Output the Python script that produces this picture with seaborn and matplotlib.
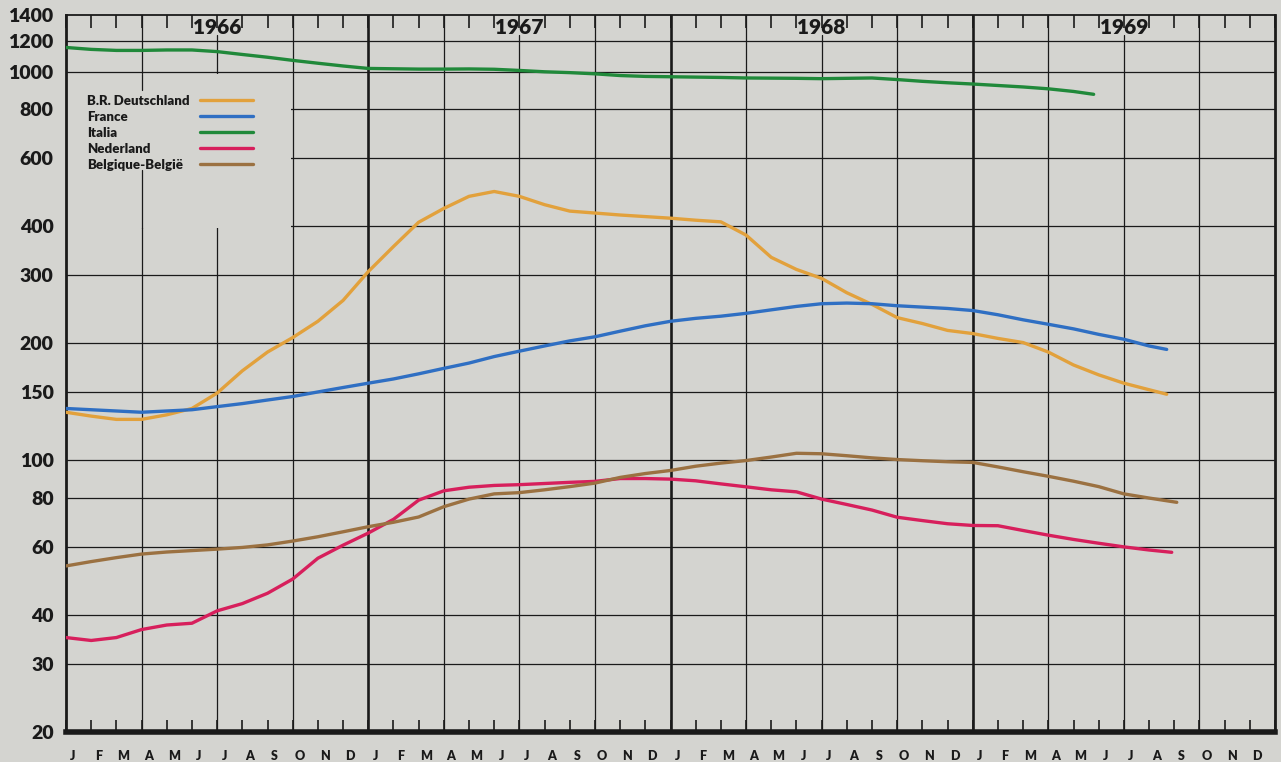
import numpy as np
import pandas as pd
import matplotlib.pyplot as plt
import seaborn as sns
from matplotlib.lines import Line2D
from matplotlib.patches import Rectangle

# valores, eje x en meses (0 = enero 1966)
paises = ['B.R. Deutschland', 'France', 'Italia', 'Nederland', 'Belgique-België']
colores = ['#e2a13c', '#2f6fc3', '#20893a', '#d71f5c', '#9b7141']
meses = ['J', 'F', 'M', 'A', 'M', 'J', 'J', 'A', 'S', 'O', 'N', 'D']
anios = ['1966', '1967', '1968', '1969']
yticks = [20, 30, 40, 60, 80, 100, 150, 200, 300, 400, 600, 800, 1000, 1200, 1400]

deutschland_x = list(range(44)) + [43.7]
deutschland = [133, 130, 127.5, 127.5, 131, 136, 149, 170, 190, 207, 228, 258, 306, 355,
               410, 445, 478, 492, 478, 455, 438, 433, 428, 424, 420, 415, 411, 380, 333,
               310, 294, 270, 252, 233, 225, 216, 212, 206, 201, 190, 176, 166, 158, 152, 148]

france_x = list(range(44)) + [43.7]
france = [136, 135, 134, 133, 134, 135, 137.5, 140, 143, 146, 150, 154, 158, 162, 167,
          172.5, 178, 185, 191, 197, 203, 208, 215, 222, 228, 232, 235, 239, 244, 249,
          253, 254, 253, 250, 248, 246, 243, 237, 230, 224, 218, 211, 205, 197, 193]

italia_x = list(range(41)) + [40.8]
italia = [1155, 1142, 1135, 1135, 1138, 1138, 1127, 1108, 1090, 1070, 1052, 1035, 1020,
          1018, 1016, 1016, 1017, 1015, 1008, 1000, 995, 988, 978, 973, 971, 969, 967,
          964, 963, 962, 960, 962, 964, 955, 945, 937, 930, 922, 914, 904, 890, 875]

nederland_x = list(range(44)) + [43.9]
nederland = [35, 34.4, 35, 36.7, 37.7, 38.1, 41, 42.8, 45.5, 49.5, 56, 60.5, 65, 70.5, 79,
             83.5, 85.3, 86.2, 86.6, 87.2, 87.8, 88.3, 89.8, 89.8, 89.5, 88.6, 87, 85.5,
             84, 83, 79.5, 77, 74.5, 71.4, 70, 68.7, 68, 67.9, 66, 64.2, 62.6, 61.2, 59.9,
             58.8, 58]

belgique_x = list(range(44)) + [44.1]
belgique = [53.5, 54.9, 56.2, 57.4, 58.1, 58.6, 59.1, 59.7, 60.6, 62, 63.6, 65.5, 67.5,
            69.3, 71.5, 76, 79.5, 82, 82.6, 84, 85.6, 87.4, 90.4, 92.5, 94.2, 96.6, 98.4,
            99.9, 102, 104.3, 104, 102.8, 101.5, 100.5, 99.8, 99.2, 98.8, 96.2, 93.5, 91,
            88.4, 85.6, 82, 80, 78]

series = [(deutschland_x, deutschland), (france_x, france), (italia_x, italia),
          (nederland_x, nederland), (belgique_x, belgique)]

frames = []
for nombre, (xs, ys) in zip(paises, series):
    frames.append(pd.DataFrame({'mes': xs, 'valor': ys, 'pais': nombre}))
df = pd.concat(frames, ignore_index=True)

fondo = '#d4d4d0'
tinta = '#1a1a1a'
peso = 'heavy'

sns.set_theme(style='white')
plt.rcParams['font.family'] = ['Lato', 'DejaVu Sans']
plt.rcParams['axes.axisbelow'] = False

fig = plt.figure(figsize=(12.81, 7.62), dpi=100, facecolor=fondo)
ax = fig.add_axes([66 / 1281, 1 - 732 / 762, 1209 / 1281, 717 / 762])
ax.set_facecolor(fondo)

sns.lineplot(data=df, x='mes', y='valor', hue='pais', palette=dict(zip(paises, colores)),
             estimator=None, sort=False, linewidth=2.4, legend=False, ax=ax, zorder=3)

ax.set_yscale('log')
ax.set_ylim(20, 1400)
ax.set_xlim(0, 48)
ax.set_xlabel('')
ax.set_ylabel('')

# rejilla dibujada a mano
for v in yticks[1:-1]:
    ax.axhline(v, color=tinta, lw=0.9, zorder=0.8)
for m in range(3, 48, 3):
    if m % 12 == 0:
        ax.axvline(m, color=tinta, lw=1.9, zorder=0.8)
    elif m % 12 == 6:
        ax.axvline(m, ymax=(732 - 35) / 717, color=tinta, lw=0.9, zorder=0.8)
    else:
        ax.axvline(m, color=tinta, lw=0.9, zorder=0.8)

# hueco de la leyenda
ax.add_patch(Rectangle((0.001, (732 - 228) / 717), (290 - 66) / 1209, (228 - 74) / 717,
                       transform=ax.transAxes, facecolor=fondo, edgecolor='none', zorder=1))
ax.axvline(3, ymin=(732 - 228) / 717, ymax=(732 - 170) / 717, color=tinta, lw=0.9, zorder=1.2)
ax.axvline(3, ymin=(732 - 90) / 717, ymax=(732 - 74) / 717, color=tinta, lw=0.9, zorder=1.2)

# ticks
ax.set_yticks(yticks, [str(v) for v in yticks])
ax.yaxis.set_minor_locator(plt.NullLocator())
ax.tick_params(axis='y', which='major', direction='in', length=11, width=1.2,
               color=tinta, pad=9, labelsize=14, labelcolor=tinta)
for t in ax.get_yticklabels():
    t.set_fontweight(peso)

ax.set_xticks(range(49), [''] * 49)
ax.set_xticks([m + 0.28 for m in range(48)], meses * 4, minor=True)
ax.tick_params(axis='x', which='major', direction='in', length=9, width=1.2,
               color=tinta, top=True, bottom=True)
ax.tick_params(axis='x', which='minor', length=0, pad=13, labelsize=9, labelcolor=tinta)
for t in ax.get_xticklabels(minor=True):
    t.set_fontweight(peso)

for sp, lw in [('left', 2), ('right', 2), ('top', 1.3), ('bottom', 4)]:
    ax.spines[sp].set_visible(True)
    ax.spines[sp].set_linewidth(lw)
    ax.spines[sp].set_color(tinta)

# años arriba
for i, a in enumerate(anios):
    ax.text(12 * i + 6, 1 - 12 / 717, a, transform=ax.get_xaxis_transform(),
            ha='center', va='center', fontsize=15, fontweight=peso, color=tinta, zorder=4)

# leyenda: textos a la izquierda, lineas a la derecha
manijas = [Line2D([], [], color=c, lw=2.4) for c in colores]
fuente_ley = {'size': 9.5, 'weight': peso}
leg1 = ax.legend(manijas, paises, loc='upper left', bbox_to_anchor=(87 / 1281, 1 - 95 / 762),
                 bbox_transform=fig.transFigure, frameon=False, handlelength=0,
                 handletextpad=0, borderpad=0, borderaxespad=0, labelspacing=0.3,
                 prop=fuente_ley)
for t in leg1.get_texts():
    t.set_color(tinta)
ax.add_artist(leg1)
leg2 = ax.legend(manijas, [' '] * 5, loc='upper left', bbox_to_anchor=(200 / 1281, 1 - 95 / 762),
                 bbox_transform=fig.transFigure, frameon=False, handlelength=4.0,
                 handletextpad=0, borderpad=0, borderaxespad=0, labelspacing=0.3,
                 prop=fuente_ley)

fig.savefig('out.png', dpi=100, facecolor=fondo)
